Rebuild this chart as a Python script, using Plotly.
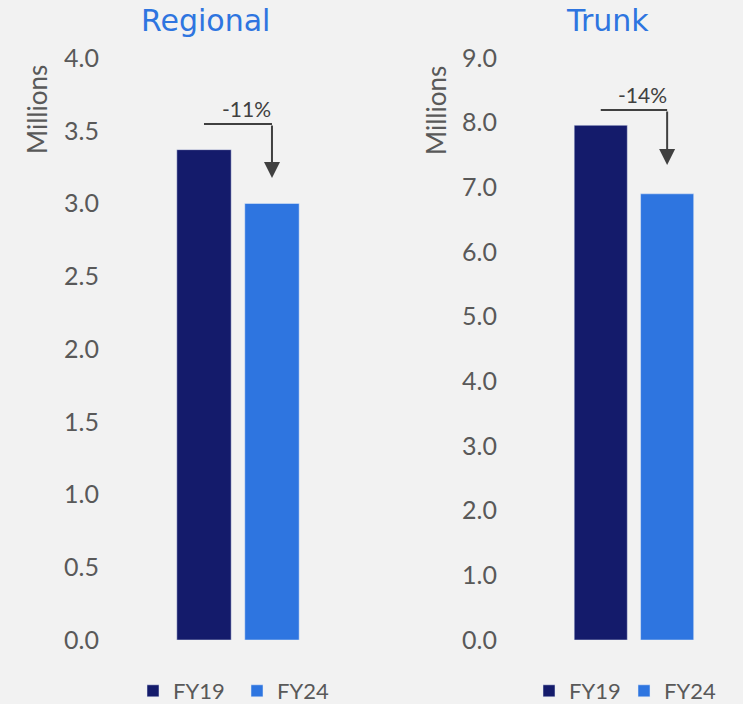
import plotly.graph_objects as go

# Data (millions of passengers)
years = ["FY19", "FY24"]
regional = [3.37, 3.00]
trunk = [7.96, 6.90]
regional_change = "-11%"
trunk_change = "-14%"

colors = {"FY19": "#141b6b", "FY24": "#2e75e0"}
grey = "#595959"
font_family = "DejaVu Sans, sans-serif"
light_family = "Lato, DejaVu Sans, sans-serif"

W, H = 743, 704


def px_x(p):
    return p / W


def px_y(p):
    return (H - p) / H


fig = go.Figure()

for i, yr in enumerate(years):
    fig.add_trace(go.Bar(
        x=["Regional"], y=[regional[i]], name=yr,
        marker_color=colors[yr], xaxis="x", yaxis="y", legend="legend",
    ))
    fig.add_trace(go.Bar(
        x=["Trunk"], y=[trunk[i]], name=yr,
        marker_color=colors[yr], xaxis="x2", yaxis="y2", legend="legend2",
    ))

ydom = [px_y(640), px_y(58)]
tickfont = dict(family=light_family, size=25, color=grey)
legfont = dict(family=light_family, size=22, color=grey)

fig.update_layout(
    width=W, height=H,
    paper_bgcolor="#f2f2f2", plot_bgcolor="#f2f2f2",
    margin=dict(l=0, r=0, t=0, b=0, autoexpand=False),
    barmode="group", bargap=0.2, bargroupgap=0.2,
    font=dict(family=font_family, color=grey),
    xaxis=dict(domain=[px_x(101), px_x(360)], range=[-0.806, 0.718],
               showticklabels=False, showgrid=False, zeroline=False),
    yaxis=dict(domain=ydom, range=[0, 4], dtick=0.5, tickformat=".1f",
               showgrid=False, zeroline=False, tickfont=tickfont,
               ticklabelstandoff=1),
    xaxis2=dict(domain=[px_x(499), px_x(743)], range=[-0.813, 0.657],
                showticklabels=False, showgrid=False, zeroline=False),
    yaxis2=dict(domain=ydom, range=[0, 9], dtick=1, tickformat=".1f",
                showgrid=False, zeroline=False, tickfont=tickfont,
                anchor="x2", ticklabelstandoff=1),
    legend=dict(orientation="h", x=px_x(133), y=px_y(691), yanchor="middle",
                bgcolor="rgba(0,0,0,0)", font=legfont, entrywidth=59),
    legend2=dict(orientation="h", x=px_x(529), y=px_y(691), yanchor="middle",
                 bgcolor="rgba(0,0,0,0)", font=legfont, entrywidth=50),
    showlegend=True,
)

# Panel titles and axis titles
for label, cx in [("Regional", 205), ("Trunk", 607)]:
    fig.add_annotation(text=label, x=px_x(cx), y=px_y(20), xref="paper", yref="paper",
                       xanchor="center", yanchor="middle", showarrow=False,
                       font=dict(size=30, color="#2e75e0"))
for cx in [37, 436]:
    fig.add_annotation(text="Millions", x=px_x(cx), y=px_y(110), xref="paper", yref="paper",
                       xanchor="center", yanchor="middle", showarrow=False, textangle=-90,
                       font=dict(family=light_family, size=26, color=grey))

# Change arrows
arrow_color = "#404040"
for xr, yr_, txt, line_y, tip_y, txt_y in [
    ("x", "y", regional_change, 3.546, 3.175, 3.656),
    ("x2", "y2", trunk_change, 8.196, 7.345, 8.43),
]:
    fig.add_shape(type="line", xref=xr, yref=yr_, x0=-0.2, x1=0.2, y0=line_y, y1=line_y,
                  line=dict(color=arrow_color, width=2))
    fig.add_annotation(xref=xr, yref=yr_, axref=xr, ayref=yr_, x=0.2, y=tip_y,
                       ax=0.2, ay=line_y, text="", showarrow=True, arrowhead=2,
                       arrowsize=1.6, arrowwidth=2, arrowcolor=arrow_color)
    fig.add_annotation(xref=xr, yref=yr_, x=0.053, y=txt_y, text=txt, showarrow=False,
                       font=dict(family=light_family, size=21, color="#404040"))

fig.write_html("out.html", config={"displayModeBar": False},
               post_script="document.body.style.margin='0';")
